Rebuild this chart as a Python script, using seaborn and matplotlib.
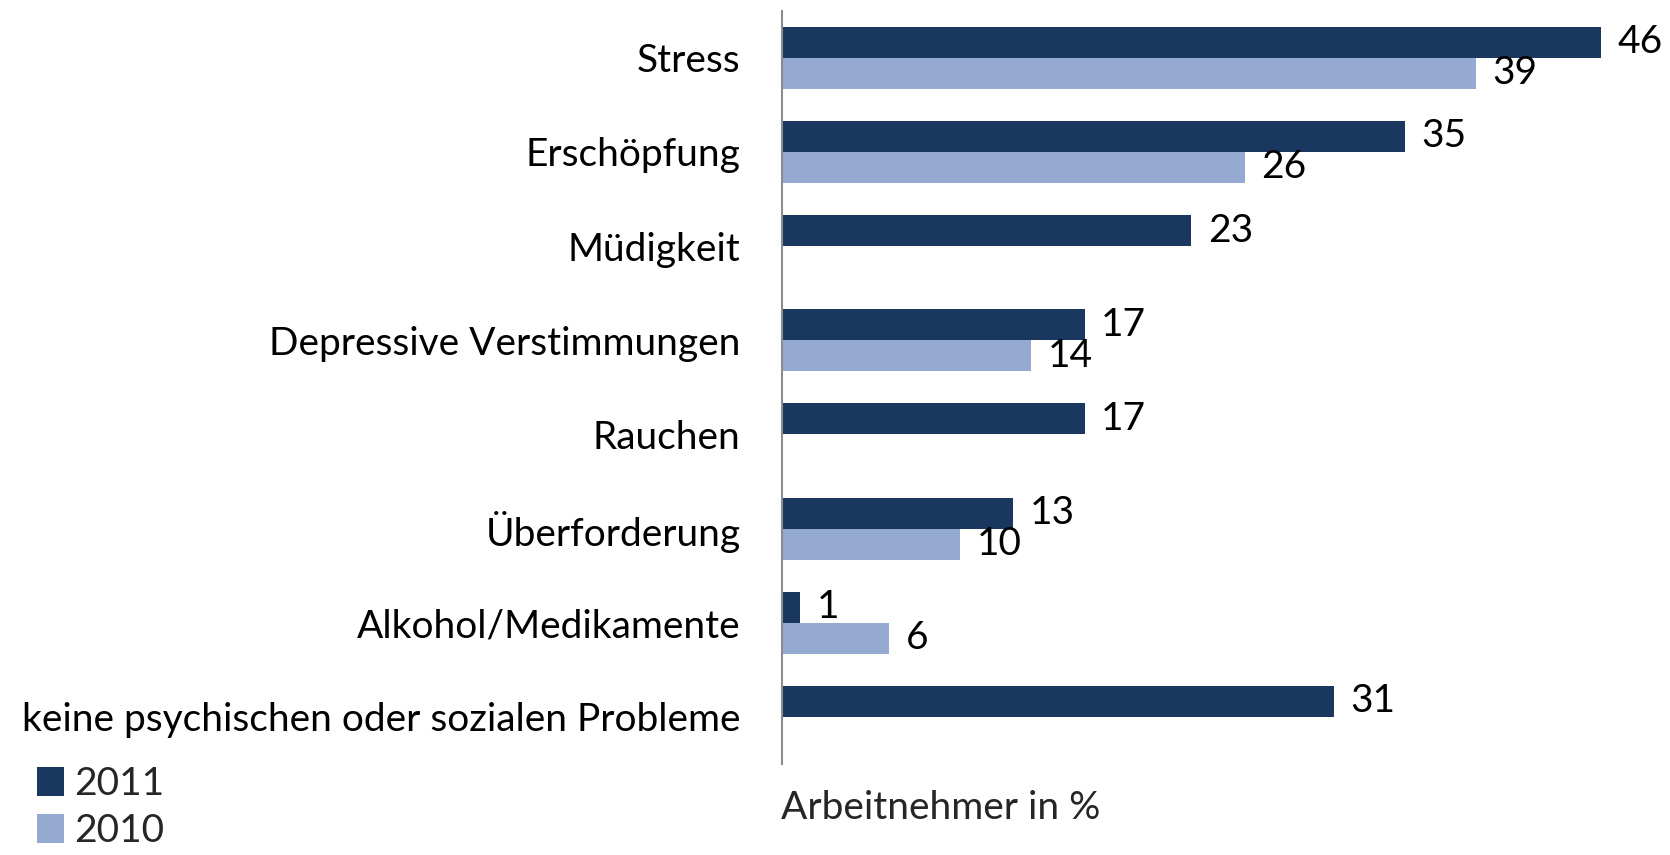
import matplotlib
matplotlib.use("Agg")
import matplotlib.pyplot as plt
import seaborn as sns
import pandas as pd
import numpy as np
from matplotlib.patches import Patch

categories = ["Stress", "Erschöpfung", "Müdigkeit", "Depressive Verstimmungen",
              "Rauchen", "Überforderung", "Alkohol/Medikamente",
              "keine psychischen oder sozialen Probleme"]
values_2011 = [46, 35, 23, 17, 17, 13, 1, 31]
values_2010 = [39, 26, np.nan, 14, np.nan, 10, 6, np.nan]
years = ["2011", "2010"]
colors = ["#1A385F", "#95AAD1"]
xlabel_text = "Arbeitnehmer in %"

df = pd.DataFrame({
    "Kategorie": categories * 2,
    "Wert": values_2011 + values_2010,
    "Jahr": ["2011"] * len(categories) + ["2010"] * len(categories),
})

sns.set_theme(style="white")
plt.rcParams["font.family"] = ["Lato", "DejaVu Sans"]

fig = plt.figure(figsize=(16.7, 8.55), dpi=100)
ax = fig.add_axes([0.4683, 0.1064, 0.52, 0.8812])

sns.barplot(data=df, y="Kategorie", x="Wert", hue="Jahr", hue_order=years,
            order=categories, palette=colors, orient="h", width=0.66,
            ax=ax, legend=False, saturation=1, edgecolor="none")

fs = 28
for cont in ax.containers:
    labels = []
    for b in cont:
        w = b.get_width()
        labels.append("" if (w is None or np.isnan(w)) else f"{w:.0f}")
    ax.bar_label(cont, labels=labels, padding=12, fontsize=fs, color="black")

ax.set_xlim(0, 48.8)
ax.set_ylim(7.5, -0.5)
ax.set_xlabel("")
ax.set_ylabel("")
ax.set_xticks([])
ax.tick_params(axis="y", length=0, pad=30, labelsize=fs, labelcolor="black")
for s in ["top", "right", "bottom"]:
    ax.spines[s].set_visible(False)
ax.spines["left"].set_color("#8C8C8C")
ax.spines["left"].set_linewidth(1.5)

fig.text(0.4677, 0.055, xlabel_text, fontsize=fs, va="center", ha="left")

handles = [Patch(facecolor=c, edgecolor="none", label=y) for c, y in zip(colors, years)]
fig.legend(handles=handles, loc="upper left", bbox_to_anchor=(0.013, 0.122),
           frameon=False, fontsize=fs, handlelength=0.7, handleheight=0.75,
           handletextpad=0.25, labelspacing=0.28, borderaxespad=0)

fig.savefig("out.png", dpi=100)
